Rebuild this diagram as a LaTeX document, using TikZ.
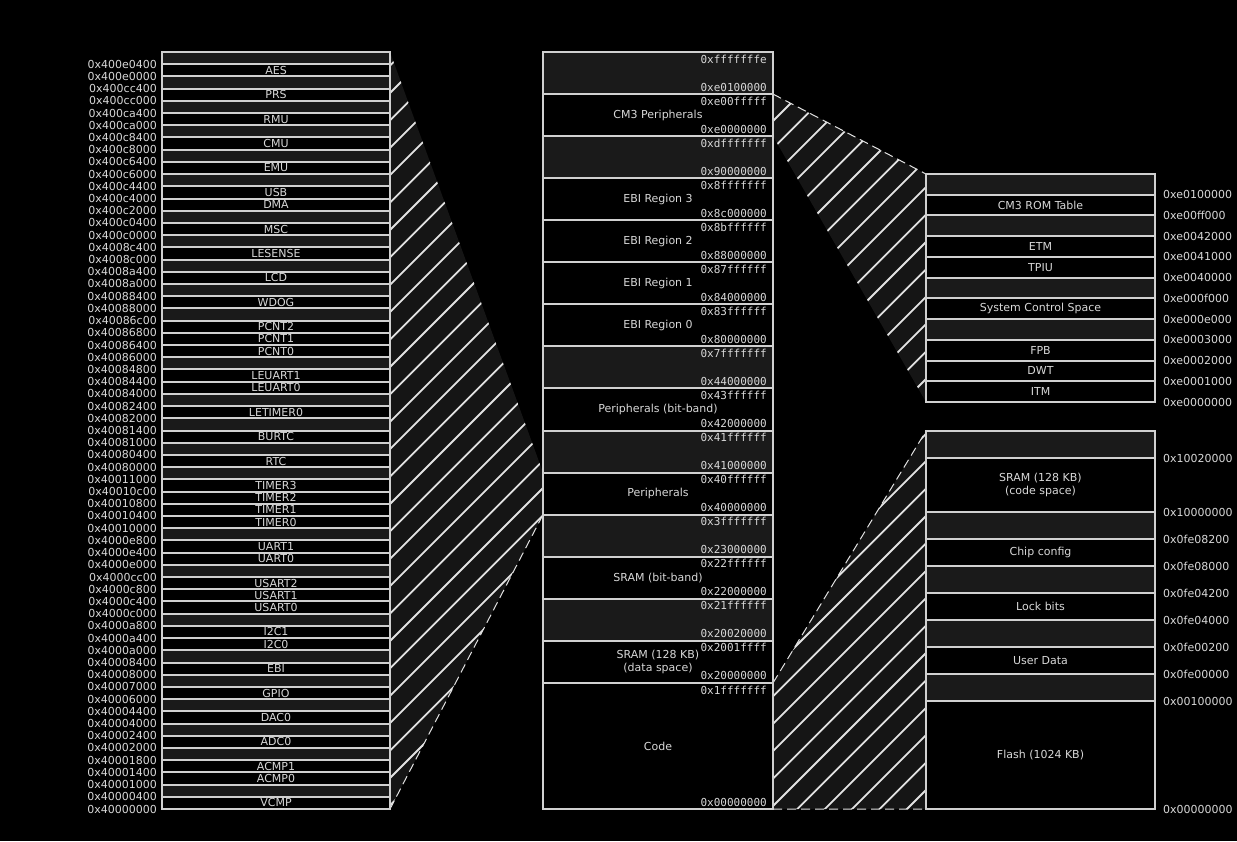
\documentclass[tikz,border=0pt]{standalone}
\usepackage{fontspec}
\setmainfont{DejaVu Sans}
\setsansfont{DejaVu Sans}
\newfontfamily\hexfont{DejaVu Sans Mono}
\usetikzlibrary{backgrounds}
\definecolor{rowline}{HTML}{D0D0D0}
\definecolor{labeltext}{HTML}{D8D8D8}
\definecolor{freegray}{HTML}{1A1A1A}
\definecolor{zoomgray}{HTML}{151515}
\definecolor{hatchline}{HTML}{E2E2E2}
\tikzset{
  memrow/.style={draw=rowline, line width=2pt, inner sep=0pt, outer sep=0pt, anchor=north west, align=center, text=labeltext, font=\fontsize{11}{13}\selectfont},
  secbox/.style={memrow, fill=black},
  freebox/.style={memrow, fill=freegray},
  addrlabel/.style={inner sep=0pt, text=labeltext, font=\fontsize{11}{13}\selectfont},
  hexlabel/.style={inner sep=0pt, anchor=east, text=labeltext, font=\hexfont\fontsize{11}{13}\selectfont},
  hatch/.style={hatchline, line width=1.8pt},
  zoomedge/.style={hatchline, line width=1pt, dash pattern=on 9pt off 5pt},
}

\begin{document}
\begin{tikzpicture}[x=1pt, y=-1pt]
\useasboundingbox (0,0) rectangle (1237,841);
% peripheral map (left)
\foreach \kind/\nm [count=\i from 0] in {freebox/{},secbox/AES,freebox/{},secbox/PRS,freebox/{},secbox/RMU,
  freebox/{},secbox/CMU,freebox/{},secbox/EMU,freebox/{},secbox/USB,secbox/DMA,freebox/{},secbox/MSC,
  freebox/{},secbox/LESENSE,freebox/{},secbox/LCD,freebox/{},secbox/WDOG,freebox/{},secbox/PCNT2,
  secbox/PCNT1,secbox/PCNT0,freebox/{},secbox/LEUART1,secbox/LEUART0,freebox/{},secbox/LETIMER0,
  freebox/{},secbox/BURTC,freebox/{},secbox/RTC,freebox/{},secbox/TIMER3,secbox/TIMER2,secbox/TIMER1,
  secbox/TIMER0,freebox/{},secbox/UART1,secbox/UART0,freebox/{},secbox/USART2,secbox/USART1,
  secbox/USART0,freebox/{},secbox/I2C1,secbox/I2C0,freebox/{},secbox/EBI,freebox/{},secbox/GPIO,
  freebox/{},secbox/DAC0,freebox/{},secbox/ADC0,freebox/{},secbox/ACMP1,secbox/ACMP0,freebox/{},secbox/VCMP}
  \node[\kind, minimum width=228pt, minimum height=12.21pt] (L\i) at (162,{52+\i*12.21}) {\nm};
\foreach \ad [count=\k] in {400e0400,400e0000,400cc400,400cc000,400ca400,400ca000,400c8400,400c8000,
  400c6400,400c6000,400c4400,400c4000,400c2000,400c0400,400c0000,4008c400,4008c000,4008a400,4008a000,
  40088400,40088000,40086c00,40086800,40086400,40086000,40084800,40084400,40084000,40082400,40082000,
  40081400,40081000,40080400,40080000,40011000,40010c00,40010800,40010400,40010000,4000e800,4000e400,
  4000e000,4000cc00,4000c800,4000c400,4000c000,4000a800,4000a400,4000a000,40008400,40008000,40007000,
  40006000,40004400,40004000,40002400,40002000,40001800,40001400,40001000,40000400,40000000}
  \node[addrlabel, anchor=east] (L\k-ad) at (157,{52+\k*12.21}) {0x\ad};
% full address space (middle)
\foreach \kind/\nm/\u/\h/\hi/\lo [count=\i] in {
  freebox/{}/0/1/fffffffe/e0100000,
  secbox/CM3 Peripherals/1/1/e00fffff/e0000000,
  freebox/{}/2/1/dfffffff/90000000,
  secbox/EBI Region 3/3/1/8fffffff/8c000000,
  secbox/EBI Region 2/4/1/8bffffff/88000000,
  secbox/EBI Region 1/5/1/87ffffff/84000000,
  secbox/EBI Region 0/6/1/83ffffff/80000000,
  freebox/{}/7/1/7fffffff/44000000,
  secbox/Peripherals (bit-band)/8/1/43ffffff/42000000,
  freebox/{}/9/1/41ffffff/41000000,
  secbox/Peripherals/10/1/40ffffff/40000000,
  freebox/{}/11/1/3fffffff/23000000,
  secbox/SRAM (bit-band)/12/1/22ffffff/22000000,
  freebox/{}/13/1/21ffffff/20020000,
  secbox/{SRAM (128 KB)\\(data space)}/14/1/2001ffff/20000000,
  secbox/Code/15/3/1fffffff/00000000}{
  \node[\kind, minimum width=230pt, minimum height={\h*42.06}] (M\i) at (543,{52+\u*42.06}) {\nm};
  \node[hexlabel] (M\i-hi) at (767,{52+\u*42.06+7}) {0x\hi};
  \node[hexlabel] (M\i-lo) at (767,{52+(\u+\h)*42.06-7}) {0x\lo};
}
% CM3 peripherals (right, top)
\foreach \kind/\nm [count=\i] in {freebox/{},secbox/CM3 ROM Table,freebox/{},secbox/ETM,secbox/TPIU,
  freebox/{},secbox/System Control Space,freebox/{},secbox/FPB,secbox/DWT,secbox/ITM}
  \node[\kind, minimum width=229pt, minimum height=20.73pt] (R\i) at (926,{174+(\i-1)*20.73}) {\nm};
\foreach \ad [count=\k] in {e0100000,e00ff000,e0042000,e0041000,e0040000,e000f000,e000e000,
  e0003000,e0002000,e0001000,e0000000}
  \node[addrlabel, anchor=west] (R\k-ad) at (1163,{174+\k*20.73}) {0x\ad};
% code space (right, bottom)
\foreach \kind/\nm/\u/\h [count=\i] in {freebox/{}/0/1,secbox/{SRAM (128 KB)\\(code space)}/1/2,
  freebox/{}/3/1,secbox/Chip config/4/1,freebox/{}/5/1,secbox/Lock bits/6/1,freebox/{}/7/1,
  secbox/User Data/8/1,freebox/{}/9/1,secbox/Flash (1024 KB)/10/4}
  \node[\kind, minimum width=229pt, minimum height={\h*27}] (C\i) at (926,{431+\u*27}) {\nm};
\foreach \ad/\u [count=\k] in {10020000/1,10000000/3,0fe08200/4,0fe08000/5,0fe04200/6,0fe04000/7,
  0fe00200/8,0fe00000/9,00100000/10,00000000/14}
  \node[addrlabel, anchor=west] (C\k-ad) at (1163,{431+\u*27}) {0x\ad};
% zoom wedges behind the maps
\begin{scope}[on background layer]
  \fill[black] (0,0) rectangle (1237,841);
  \begin{scope}
    \clip (L0.north east) -- (M11.north west) -- (M11.south west) -- (L61.south east) -- cycle;
    \fill[zoomgray] (0,0) rectangle (1237,841);
    \foreach \n in {0,...,75} \draw[hatch] ({17.2+\n*27.4-900},900) -- ({17.2+\n*27.4},0);
  \end{scope}
  \begin{scope}
    \clip (M2.north east) -- (R1.north west) -- (R11.south west) -- (M2.south east) -- cycle;
    \fill[zoomgray] (0,0) rectangle (1237,841);
    \foreach \n in {0,...,75} \draw[hatch] ({17.2+\n*27.4-900},900) -- ({17.2+\n*27.4},0);
  \end{scope}
  \begin{scope}
    \clip (M16.north east) -- (C1.north west) -- (C10.south west) -- (M16.south east) -- cycle;
    \fill[zoomgray] (0,0) rectangle (1237,841);
    \foreach \n in {0,...,75} \draw[hatch] ({17.2+\n*27.4-900},900) -- ({17.2+\n*27.4},0);
  \end{scope}
  \draw[zoomedge] (L61.south east) -- (M11.south west);
  \draw[zoomedge] (M2.north east) -- (R1.north west);
  \draw[zoomedge] (M16.north east) -- (C1.north west);
  \draw[zoomedge] (M16.south east) -- (C10.south west);
\end{scope}
\end{tikzpicture}
\end{document}
